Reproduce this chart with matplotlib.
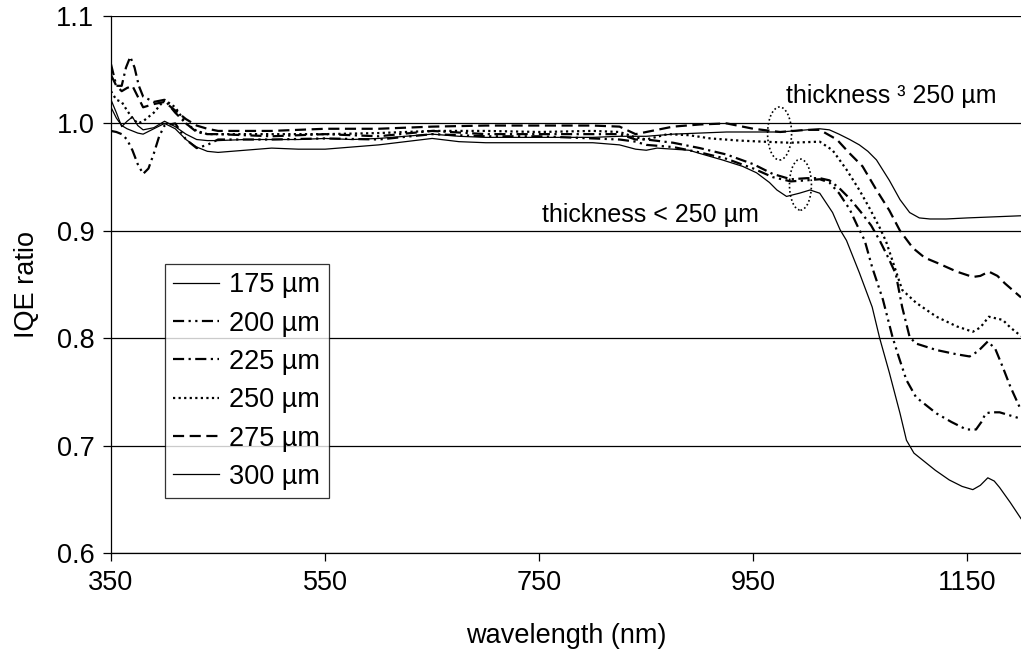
import numpy as np
import matplotlib
matplotlib.use('Agg')
import matplotlib.pyplot as plt
from matplotlib.patches import Ellipse

plt.rcParams['font.family'] = ['Liberation Sans', 'DejaVu Sans']

# ---------------- data ----------------
wl_175 = [350, 355, 360, 365, 370, 375, 380, 390, 400, 410, 420, 430, 440, 450, 475, 500, 525, 550, 575, 600,
          625, 650, 675, 700, 725, 750, 775, 800, 825, 840, 850, 860, 875, 890, 900, 921, 940, 953, 965, 972,
          981, 993, 1003, 1012, 1024, 1031, 1037, 1049, 1061, 1068, 1077, 1087, 1093, 1100, 1110, 1120, 1133,
          1145, 1155, 1162, 1169, 1175, 1180, 1190, 1200]
iqe_175 = [1.015, 1.005, 0.998, 0.995, 0.993, 0.991, 0.990, 0.995, 1.000, 0.995, 0.985, 0.978, 0.974, 0.973,
           0.975, 0.977, 0.976, 0.976, 0.978, 0.980, 0.983, 0.986, 0.983, 0.982, 0.982, 0.982, 0.982, 0.982,
           0.980, 0.976, 0.975, 0.977, 0.976, 0.975, 0.972, 0.966, 0.960, 0.954, 0.945, 0.938, 0.932, 0.935,
           0.938, 0.935, 0.917, 0.901, 0.891, 0.861, 0.829, 0.800, 0.768, 0.730, 0.705, 0.693, 0.685, 0.677,
           0.668, 0.662, 0.659, 0.663, 0.670, 0.667, 0.661, 0.647, 0.632]

wl_200 = [350, 355, 360, 365, 370, 375, 380, 385, 390, 395, 400, 410, 420, 430, 440, 450, 500, 550, 600, 650,
          700, 750, 800, 825, 840, 850, 875, 900, 925, 950, 968, 985, 1000, 1012, 1021, 1030, 1040, 1047, 1054,
          1061, 1071, 1080, 1086, 1093, 1102, 1121, 1135, 1149, 1158, 1163, 1167, 1172, 1180, 1190, 1200]
iqe_200 = [0.993, 0.992, 0.990, 0.985, 0.975, 0.962, 0.953, 0.958, 0.972, 0.988, 0.998, 1.000, 0.985, 0.977,
           0.980, 0.985, 0.985, 0.986, 0.985, 0.990, 0.988, 0.988, 0.986, 0.985, 0.983, 0.980, 0.978, 0.973,
           0.967, 0.958, 0.950, 0.946, 0.947, 0.948, 0.945, 0.935, 0.920, 0.905, 0.891, 0.866, 0.836, 0.801,
           0.782, 0.761, 0.745, 0.730, 0.722, 0.715, 0.715, 0.722, 0.730, 0.731, 0.731, 0.728, 0.725]

wl_225 = [350, 355, 360, 364, 368, 372, 376, 380, 390, 400, 410, 420, 430, 440, 450, 500, 550, 600, 650, 700,
          750, 800, 825, 840, 850, 875, 900, 925, 950, 968, 985, 1000, 1012, 1021, 1030, 1040, 1050, 1060, 1068,
          1076, 1083, 1089, 1096, 1102, 1121, 1140, 1152, 1160, 1169, 1176, 1183, 1190, 1200]
iqe_225 = [1.055, 1.035, 1.035, 1.052, 1.062, 1.052, 1.035, 1.025, 1.020, 1.022, 1.010, 1.000, 0.992, 0.990,
           0.990, 0.988, 0.990, 0.988, 0.993, 0.990, 0.990, 0.990, 0.990, 0.985, 0.985, 0.982, 0.977, 0.971,
           0.962, 0.953, 0.948, 0.949, 0.949, 0.947, 0.940, 0.930, 0.918, 0.905, 0.891, 0.875, 0.860, 0.829,
           0.801, 0.795, 0.789, 0.785, 0.783, 0.788, 0.797, 0.790, 0.773, 0.755, 0.733]

wl_250 = [350, 355, 360, 365, 370, 375, 380, 390, 400, 410, 420, 430, 440, 450, 500, 550, 600, 650, 700, 750,
          800, 825, 840, 850, 870, 890, 910, 937, 959, 984, 1012, 1024, 1037, 1049, 1058, 1068, 1074, 1082,
          1089, 1102, 1121, 1140, 1155, 1162, 1170, 1183, 1190, 1200]
iqe_250 = [1.030, 1.022, 1.020, 1.012, 1.005, 1.000, 1.002, 1.010, 1.022, 1.015, 1.000, 0.993, 0.990, 0.990,
           0.990, 0.990, 0.991, 0.993, 0.993, 0.992, 0.993, 0.992, 0.987, 0.985, 0.990, 0.989, 0.986, 0.984,
           0.983, 0.982, 0.983, 0.975, 0.957, 0.938, 0.922, 0.903, 0.890, 0.866, 0.845, 0.833, 0.820, 0.811,
           0.806, 0.810, 0.820, 0.817, 0.810, 0.802]

wl_275 = [350, 355, 360, 365, 370, 375, 380, 390, 400, 410, 420, 430, 440, 450, 500, 550, 600, 650, 700, 750,
          800, 825, 840, 850, 875, 900, 925, 950, 975, 1000, 1012, 1028, 1040, 1052, 1065, 1077, 1087, 1099,
          1110, 1122, 1140, 1155, 1162, 1170, 1178, 1185, 1200]
iqe_275 = [1.045, 1.035, 1.030, 1.033, 1.035, 1.025, 1.015, 1.018, 1.020, 1.012, 1.004, 0.998, 0.995, 0.993,
           0.993, 0.995, 0.995, 0.997, 0.998, 0.998, 0.998, 0.997, 0.990, 0.992, 0.997, 0.999, 1.000, 0.995,
           0.992, 0.994, 0.994, 0.985, 0.972, 0.960, 0.938, 0.919, 0.900, 0.884, 0.875, 0.870, 0.862, 0.857,
           0.858, 0.862, 0.858, 0.851, 0.838]

wl_300 = [350, 355, 360, 365, 370, 375, 380, 390, 400, 410, 420, 430, 440, 450, 475, 500, 525, 550, 575, 600,
          625, 650, 675, 700, 725, 750, 775, 800, 825, 850, 875, 900, 925, 950, 975, 1000, 1012, 1021, 1030,
          1040, 1049, 1057, 1065, 1077, 1087, 1096, 1105, 1115, 1130, 1150, 1175, 1200]
iqe_300 = [1.022, 1.010, 0.997, 1.002, 1.006, 0.998, 0.994, 0.996, 1.002, 0.997, 0.990, 0.985, 0.984, 0.984,
           0.985, 0.985, 0.985, 0.986, 0.985, 0.986, 0.988, 0.990, 0.988, 0.987, 0.987, 0.987, 0.987, 0.987,
           0.988, 0.988, 0.990, 0.991, 0.992, 0.992, 0.992, 0.994, 0.995, 0.994, 0.990, 0.985, 0.980, 0.974,
           0.966, 0.947, 0.929, 0.917, 0.912, 0.911, 0.911, 0.912, 0.913, 0.914]

labels = ['175 µm', '200 µm', '225 µm', '250 µm', '275 µm', '300 µm']
x_ticks = [350, 550, 750, 950, 1150]
y_ticks = [0.6, 0.7, 0.8, 0.9, 1.0, 1.1]
y_tick_labels = ['0.6', '0.7', '0.8', '0.9', '1.0', '1.1']

# ---------------- styling ----------------
series = [(wl_175, iqe_175), (wl_200, iqe_200), (wl_225, iqe_225),
          (wl_250, iqe_250), (wl_275, iqe_275), (wl_300, iqe_300)]
styles = [dict(ls='-', lw=0.9),
          dict(ls=(0, (5, 2, 1, 2, 1, 2)), lw=1.6),
          dict(ls=(0, (5, 2, 1, 2)), lw=1.6),
          dict(ls=(0, (1, 1.5)), lw=1.6),
          dict(ls=(0, (5, 2.5)), lw=1.6),
          dict(ls='-', lw=0.9)]

FS = 19.5
FS_ANN = 18
fig = plt.figure(figsize=(10.21, 6.58), dpi=100)
ax = fig.add_axes([111 / 1021, 1 - 553 / 658, 910 / 1021, 537 / 658])

for (x, y), st, lab in zip(series, styles, labels):
    ax.plot(x, y, color='black', label=lab, **st)

ax.set_xlim(350, 1200)
ax.set_ylim(0.6, 1.1)
ax.set_xticks(x_ticks)
ax.set_xticklabels([str(v) for v in x_ticks])
ax.set_yticks(y_ticks)
ax.set_yticklabels(y_tick_labels)
ax.yaxis.grid(True, color='black', lw=0.9)
ax.set_axisbelow(True)
ax.tick_params(direction='out', length=6, width=0.9, labelsize=FS, colors='black', pad=6)
for s in ['right', 'top']:
    ax.spines[s].set_visible(False)
for s in ['left', 'bottom']:
    ax.spines[s].set_linewidth(0.9)

ax.set_xlabel('wavelength (nm)', fontsize=FS)
ax.set_ylabel('IQE ratio', fontsize=FS)
ax.xaxis.set_label_coords(0.5, -(636 - 553) / 537)
ax.xaxis.label.set_va('center')
ax.yaxis.set_label_coords(-(111 - 27) / 910, 0.5)
ax.yaxis.label.set_va('center')

# annotations
ax.text(1079, 1.0255, 'thickness ³ 250 µm', fontsize=FS_ANN, ha='center', va='center')
ax.text(854, 0.9147, 'thickness < 250 µm', fontsize=FS_ANN, ha='center', va='center')
ax.add_patch(Ellipse((974.5, 0.9906), 22.4, 0.0493, fill=False, ls=(0, (1, 1.5)), lw=1.2, color='black'))
ax.add_patch(Ellipse((994, 0.943), 20.5, 0.0475, fill=False, ls=(0, (1, 1.5)), lw=1.2, color='black'))

leg = ax.legend(loc='lower left', bbox_to_anchor=(0.0593, 0.1024), borderaxespad=0,
                fontsize=FS, handlelength=1.7, handletextpad=0.38, labelspacing=0.455,
                frameon=True, fancybox=False, edgecolor='black', borderpad=0.3)
leg.get_frame().set_linewidth(0.9)

fig.savefig('out.png', dpi=100, facecolor='white')
